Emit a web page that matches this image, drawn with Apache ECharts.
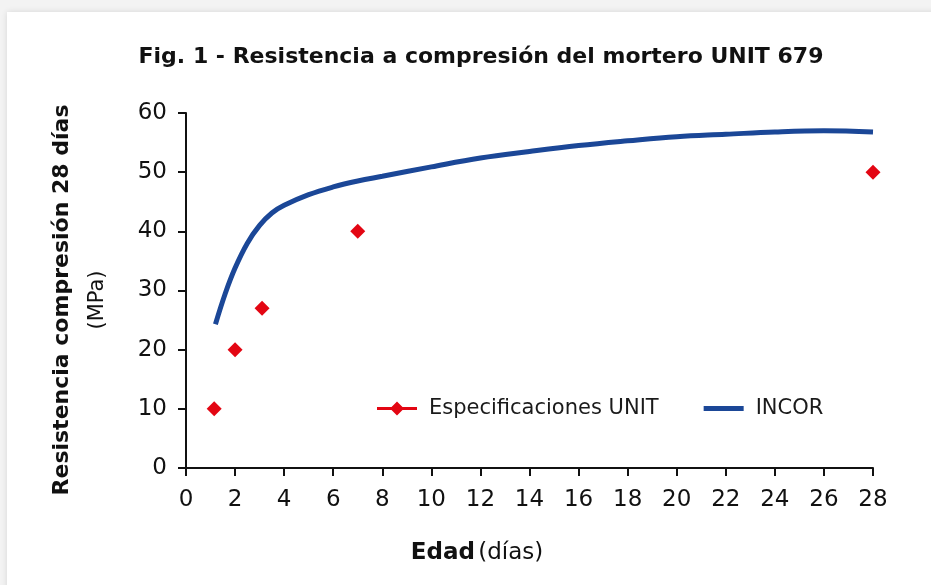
<!DOCTYPE html>
<html>
<head>
<meta charset="utf-8">
<script src="https://cdn.jsdelivr.net/npm/echarts@6/dist/echarts.min.js"></script>
<style>
  html, body { margin: 0; padding: 0; background: #f3f3f3; }
  #wrap { position: absolute; left: 7px; top: 12px; width: 940px; height: 600px; background: #fff; box-shadow: 0 0 6px rgba(0,0,0,0.12); }
  #chart { position: absolute; left: 0; top: 0; width: 931px; height: 585px; }
</style>
</head>
<body>
<div id="wrap"></div>
<div id="chart"></div>
<script>
// datos
var unitDias = [1.15, 2, 3.1, 7, 28];
var unitMPa = [10, 20, 27, 40, 50];
var incorDias = [1.2, 1.6, 2, 2.5, 3, 3.5, 4, 5, 6, 7, 8, 10, 12, 14, 16, 18, 20, 22, 24, 26, 28];
var incorMPa = [24.3, 29.5, 33.8, 38, 41, 43.1, 44.4, 46.2, 47.5, 48.5, 49.3, 50.9, 52.4, 53.5, 54.5, 55.3, 56, 56.4, 56.8, 57, 56.8];
var xTicks = [0, 28, 2];   // min, max, intervalo
var yTicks = [0, 60, 10];

var fuente = '"DejaVu Sans", sans-serif';
var chart = echarts.init(document.getElementById('chart'));

function pares(xs, ys) {
  var out = [];
  for (var i = 0; i < xs.length; i++) out.push([xs[i], ys[i]]);
  return out;
}

var option = {
  backgroundColor: 'transparent',
  textStyle: { fontFamily: fuente },
  title: {
    text: 'Fig. 1 - Resistencia a compresión del mortero UNIT 679',
    left: 476,
    textAlign: 'center',
    top: 41,
    textStyle: { fontFamily: fuente, fontSize: 22, fontWeight: 'bold', color: '#111' }
  },
  grid: { left: 186, right: 58, top: 113, bottom: 117, containLabel: false },
  legend: {
    left: 372,
    top: 393,
    itemWidth: 40,
    itemHeight: 14,
    itemGap: 45,
    selectedMode: false,
    textStyle: { fontFamily: fuente, fontSize: 21, color: '#1a1a1a', padding: [0, 0, 0, 7] },
    data: [
      { name: 'Especificaciones UNIT', icon: 'path://M0,5.6L40,5.6L40,8.4L0,8.4Z M20,0L27,7L20,14L13,7Z' },
      { name: 'INCOR', icon: 'path://M0,0L0.01,0L0,0.01Z M0,4.6L40,4.6L40,9.4L0,9.4Z M40,14L39.99,14L40,13.99Z' }
    ]
  },
  graphic: [
    {
      type: 'text',
      x: 477,
      y: 553,
      style: {
        text: '{b|Edad} {n|(días)}',
        align: 'center',
        verticalAlign: 'middle',
        rich: {
          b: { fontFamily: fuente, fontSize: 23, fontWeight: 'bold', fill: '#111' },
          n: { fontFamily: fuente, fontSize: 23, fill: '#111' }
        }
      }
    },
    {
      type: 'text',
      x: 80,
      y: 300,
      rotation: Math.PI / 2,
      style: {
        text: '{b|Resistencia compresión 28 días}\n{n|(MPa)}',
        align: 'center',
        verticalAlign: 'middle',
        rich: {
          b: { fontFamily: fuente, fontSize: 22, fontWeight: 'bold', fill: '#111', lineHeight: 36, align: 'center' },
          n: { fontFamily: fuente, fontSize: 21, fill: '#111', lineHeight: 36, align: 'center' }
        }
      }
    }
  ],
  xAxis: {
    type: 'value',
    min: xTicks[0],
    max: xTicks[1],
    interval: xTicks[2],
    axisLine: { lineStyle: { color: '#111', width: 2 } },
    axisTick: { length: 8, lineStyle: { color: '#111', width: 2 } },
    axisLabel: { fontSize: 23, color: '#111', margin: 21 },
    splitLine: { show: false }
  },
  yAxis: {
    type: 'value',
    min: yTicks[0],
    max: yTicks[1],
    interval: yTicks[2],
    axisLine: { show: true, lineStyle: { color: '#111', width: 2 } },
    axisTick: { show: true, length: 8, lineStyle: { color: '#111', width: 2 } },
    axisLabel: { fontSize: 23, color: '#111', margin: 19 },
    splitLine: { show: false }
  },
  series: [
    {
      name: 'Especificaciones UNIT',
      type: 'scatter',
      symbol: 'diamond',
      symbolSize: 15,
      itemStyle: { color: '#e30613', opacity: 1 },
      data: pares(unitDias, unitMPa),
      z: 3
    },
    {
      name: 'INCOR',
      type: 'line',
      smooth: 0.4,
      showSymbol: false,
      symbol: 'none',
      lineStyle: { color: '#1b4797', width: 5 },
      itemStyle: { color: '#1b4797' },
      data: pares(incorDias, incorMPa),
      z: 2
    }
  ]
};
chart.setOption(option);
</script>
</body>
</html>
